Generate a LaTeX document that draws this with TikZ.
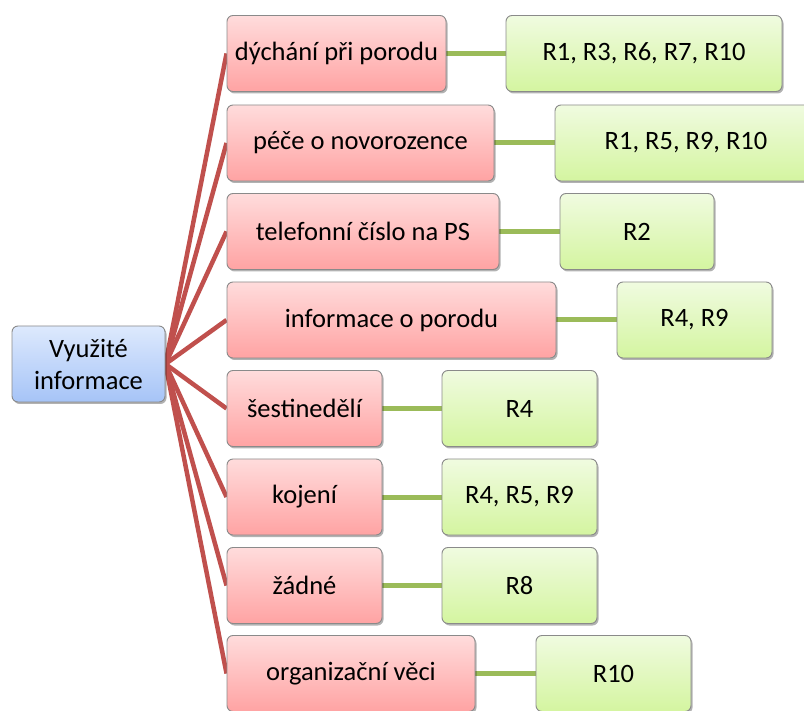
\documentclass[tikz,border=0pt]{standalone}
\usepackage{fontspec}
\setmainfont{Carlito}
\usetikzlibrary{shadows,backgrounds}

\definecolor{redtop}{HTML}{FFDCDC}
\definecolor{redbot}{HTML}{FFA3A3}
\definecolor{greentop}{HTML}{F0FBE0}
\definecolor{greenbot}{HTML}{D4F5A0}
\definecolor{bluetop}{HTML}{DDE9FD}
\definecolor{bluebot}{HTML}{A6C4F7}
\definecolor{redline}{HTML}{C0504D}
\definecolor{greenline}{HTML}{9BBB59}
\definecolor{boxedge}{HTML}{8A8A8A}

\tikzset{
  x=1pt, y=-1pt,
  box/.style={rounded corners=6pt, draw=boxedge, line width=0.9pt,
    minimum height=76pt, inner sep=0pt, text=black,
    font=\fontsize{26.5}{32}\selectfont,
    drop shadow={shadow xshift=1.5pt, shadow yshift=-2pt, opacity=0.3, fill=black}},
  rootbox/.style={box, top color=bluetop, bottom color=bluebot, align=center},
  topicbox/.style={box, top color=redtop, bottom color=redbot},
  replybox/.style={box, top color=greentop, bottom color=greenbot},
  branch/.style={draw=redline, line width=4.5pt},
  link/.style={draw=greenline, line width=5pt},
}

\begin{document}
\begin{tikzpicture}
\useasboundingbox (0,0) rectangle (804,711);

% root
\node[rootbox, minimum width=153pt] (root) at (88.5,364) {Využité\\informace};

% topics
\node[topicbox, minimum width=219pt] (t1) at (336.5,53.5) {dýchání při porodu};
\node[topicbox, minimum width=267pt] (t2) at (360.5,143) {péče o novorozence};
\node[topicbox, minimum width=272pt] (t3) at (363,231.5) {telefonní číslo na PS};
\node[topicbox, minimum width=329pt] (t4) at (391.5,320) {informace o porodu};
\node[topicbox, minimum width=155pt] (t5) at (304.5,408.5) {šestinedělí};
\node[topicbox, minimum width=155pt] (t6) at (304.5,497) {kojení};
\node[topicbox, minimum width=155pt] (t7) at (304.5,585.5) {žádné};
\node[topicbox, minimum width=248pt] (t8) at (351,673.5) {organizační věci};

% replies
\node[replybox, minimum width=276pt] (g1) at (644,53.5) {R1, R3, R6, R7, R10};
\node[replybox, minimum width=262pt] (g2) at (686,143) {R1, R5, R9, R10};
\node[replybox, minimum width=154pt] (g3) at (637,231.5) {R2};
\node[replybox, minimum width=155pt] (g4) at (694.5,320) {R4, R9};
\node[replybox, minimum width=155pt] (g5) at (519.5,408.5) {R4};
\node[replybox, minimum width=155pt] (g6) at (519.5,497) {R4, R5, R9};
\node[replybox, minimum width=155pt] (g7) at (519.5,585.5) {R8};
\node[replybox, minimum width=155pt] (g8) at (613.5,673.5) {R10};

\begin{scope}[on background layer]
  \foreach \i in {1,...,8} {
    \draw[branch] (root.east) -- (t\i.west);
    \draw[link] (t\i.east) -- (g\i.west);
  }
\end{scope}
\end{tikzpicture}
\end{document}
